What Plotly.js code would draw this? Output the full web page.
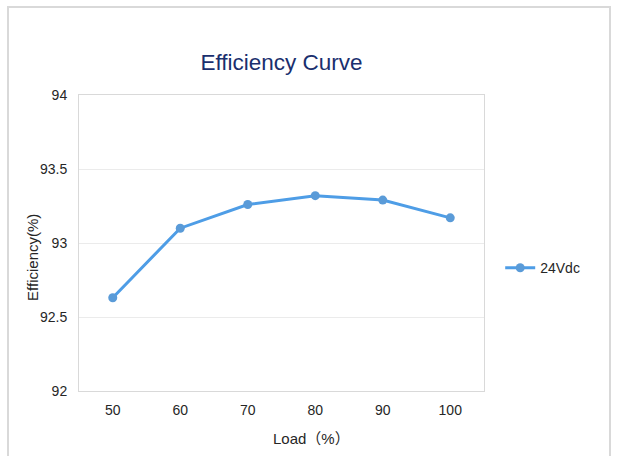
<!DOCTYPE html>
<html>
<head>
<meta charset="utf-8">
<script src="https://cdn.plot.ly/plotly-3.0.1.min.js"></script>
<style>
html,body{margin:0;padding:0;background:#fff;}
#wrap{position:relative;width:617px;height:456px;overflow:hidden;}
#frame{position:absolute;left:7px;top:6px;width:604px;height:470px;border:2px solid #d9d9d9;box-sizing:border-box;pointer-events:none;}
#chart{position:absolute;left:0;top:0;width:617px;height:456px;}
</style>
</head>
<body>
<div id="wrap">
<div id="chart"></div>
<div id="frame"></div>
</div>
<script>
const loads = ['50', '60', '70', '80', '90', '100'];
const efficiency24Vdc = [92.63, 93.10, 93.26, 93.32, 93.29, 93.17];
const yTicks = [92, 92.5, 93, 93.5, 94];
const yTickLabels = ['92', '92.5', '93', '93.5', '94'];
const xTitle = 'Load（%）';
const yTitle = 'Efficiency(%)';
const chartTitle = 'Efficiency Curve';
const seriesName = '24Vdc';

const fontFam = '"Liberation Sans", Arial, "Noto Sans CJK SC", sans-serif';

const trace = {
  x: loads,
  y: efficiency24Vdc,
  type: 'scatter',
  mode: 'lines+markers',
  name: seriesName,
  line: {color: '#4e9de6', width: 3},
  marker: {color: '#5a9bd8', size: 9}
};

const layout = {
  width: 617,
  height: 456,
  margin: {l: 79, r: 133, t: 95, b: 65},
  paper_bgcolor: '#ffffff',
  plot_bgcolor: '#ffffff',
  font: {family: fontFam, size: 14, color: '#262626'},
  title: {
    text: chartTitle,
    font: {family: fontFam, size: 22.5, color: '#1a2f6e'},
    xref: 'paper', x: 0.5, xanchor: 'center',
    yref: 'container', y: 0.864, yanchor: 'middle'
  },
  xaxis: {
    type: 'category',
    range: [-0.5, 5.5],
    showline: true, mirror: true, linecolor: '#d9d9d9', linewidth: 1,
    showgrid: false, zeroline: false,
    ticks: '', ticklen: 0,
    ticklabelstandoff: 6,
    tickfont: {size: 14, color: '#262626'}
  },
  yaxis: {
    range: [92, 94],
    tickvals: yTicks,
    ticktext: yTickLabels,
    showline: true, mirror: true, linecolor: '#d9d9d9', linewidth: 1,
    showgrid: true, gridcolor: '#ebebeb', gridwidth: 1,
    zeroline: false,
    ticks: '', ticklen: 0,
    ticklabelstandoff: 8,
    tickfont: {size: 14, color: '#262626'}
  },
  annotations: [
    {text: xTitle, xref: 'paper', yref: 'paper', x: 0.573, y: -0.159,
     xanchor: 'center', yanchor: 'middle', showarrow: false,
     font: {size: 15, color: '#262626'}},
    {text: yTitle, xref: 'paper', yref: 'paper', x: -0.1136, y: 0.453,
     xanchor: 'center', yanchor: 'middle', textangle: -90, showarrow: false,
     font: {size: 15, color: '#262626'}}
  ],
  showlegend: true,
  legend: {
    x: 1.04, xanchor: 'left',
    y: 0.415, yanchor: 'middle',
    font: {size: 14, color: '#262626'},
    bgcolor: 'rgba(0,0,0,0)'
  }
};

Plotly.newPlot('chart', [trace], layout, {displayModeBar: false, staticPlot: true});
</script>
</body>
</html>
